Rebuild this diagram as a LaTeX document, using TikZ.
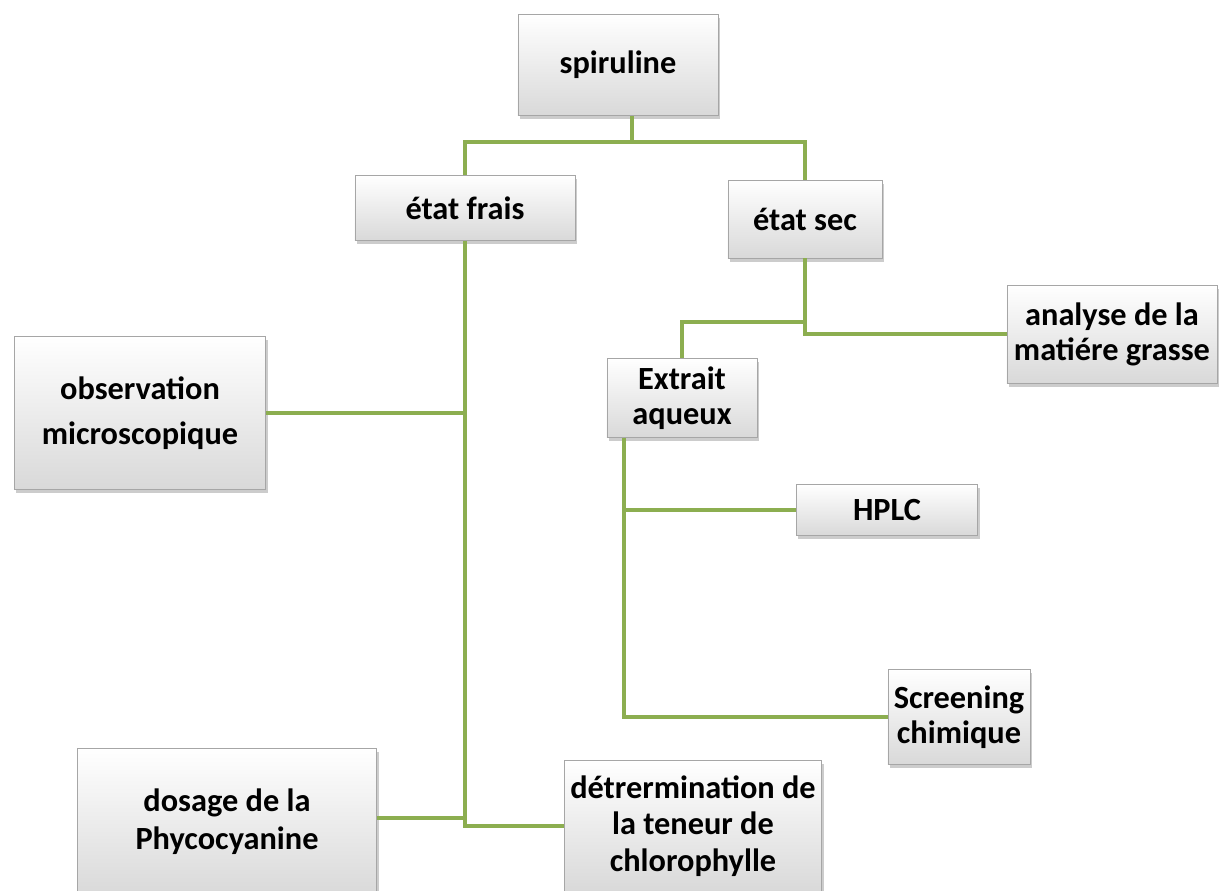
\documentclass[tikz,border=0pt]{standalone}
\usepackage{fontspec}
\setmainfont{Carlito}
\usetikzlibrary{shadows, positioning, calc}
\definecolor{ligne}{RGB}{140,174,80}

\begin{document}
\begin{tikzpicture}[x=0.025cm, y=-0.025cm,
    boite/.style={draw=gray!70, line width=0.4pt, top color=white, bottom color=gray!30,
        drop shadow={shadow xshift=0.5mm, shadow yshift=-0.9mm, opacity=0.4},
        align=center, inner sep=2pt, font=\fontsize{23}{25}\selectfont\bfseries},
    lien/.style={draw=ligne, line width=2.8pt}]
    \useasboundingbox (0,0) rectangle (1220,891);
    % les boites
    \node[boite, minimum width=5cm, minimum height=2.525cm] at (618,65) (spiruline) {spiruline};
    \node[boite, minimum width=5.5cm, minimum height=1.625cm] at (465,208) (frais) {état frais};
    \node[boite, minimum width=3.85cm, minimum height=1.95cm] at (805,219) (sec) {état sec};
    \node[boite, minimum width=5.25cm, minimum height=2.45cm] at (1112,334) (analyse) {analyse de la\\matiére grasse};
    \node[boite, minimum width=3.75cm, minimum height=1.975cm] at (682,398) (extrait) {Extrait\\aqueux};
    \node[boite, minimum width=6.275cm, minimum height=3.825cm, font=\fontsize{23}{32}\selectfont\bfseries] at (140,413) (obs) {observation\\microscopique};
    \node[boite, minimum width=4.525cm, minimum height=1.275cm] at (887,510) (hplc) {HPLC};
    \node[boite, minimum width=3.55cm, minimum height=2.375cm] at (959,717) (screen) {Screening\\chimique};
    \node[boite, minimum width=7.475cm, minimum height=3.7cm, font=\fontsize{23}{27}\selectfont\bfseries] at (227,822) (dosage) {dosage de la\\Phycocyanine};
    \node[boite, minimum width=6.425cm, minimum height=3.3cm, font=\fontsize{23}{26}\selectfont\bfseries] at (693,826) (chloro) {détrermination de\\la teneur de\\chlorophylle};
    % les liens
    \coordinate (j1) at (632,142);
    \coordinate (j2) at (806,322);
    \coordinate (j3) at (624,437);
    \draw[lien] (spiruline.south -| j1) -- (j1);
    \draw[lien] (frais.north) |- (j1) -| (sec.north);
    \draw[lien] (frais.south) |- (chloro.west);
    \draw[lien] (obs.east) -- (obs.east -| frais.south);
    \draw[lien] (dosage.east |- 0,818) -- (frais.south |- 0,818);
    \draw[lien] (sec.south) |- (analyse.west);
    \draw[lien] (j2) -| (extrait.north);
    \draw[lien] (extrait.south -| j3) |- (hplc.west);
    \draw[lien] (extrait.south -| j3) |- (screen.west);
\end{tikzpicture}
\end{document}
